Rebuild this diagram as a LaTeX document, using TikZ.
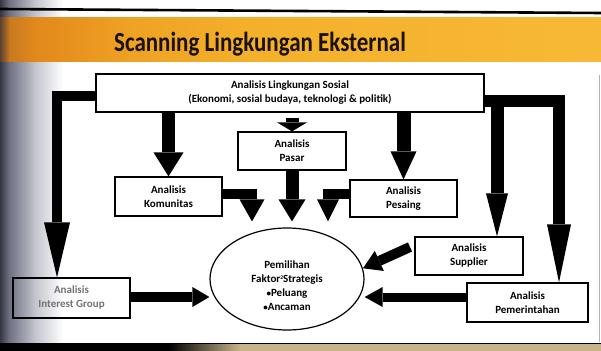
\documentclass[tikz,border=0pt]{standalone}
\usepackage{fontspec}
\setmainfont{Carlito}
\usepackage{graphicx}
\usetikzlibrary{arrows.meta,shapes.geometric}

\definecolor{bandA}{HTML}{5A4030}
\definecolor{bandB}{HTML}{C87A20}
\definecolor{bandC}{HTML}{E2891C}
\definecolor{bandD}{HTML}{EFA224}
\definecolor{bandE}{HTML}{F4B02B}
\definecolor{bandF}{HTML}{F7B935}
\definecolor{fadeA}{HTML}{353842}
\definecolor{fadeB}{HTML}{6D7080}
\definecolor{fadeC}{HTML}{C5C7D0}
\definecolor{botB}{HTML}{C8B48A}
\definecolor{titlecol}{HTML}{1A1208}

% title band: dark at the left edge, orange to yellow-orange to the right
\pgfdeclarehorizontalshading{bandshade}{100bp}{color(0bp)=(bandA); color(25bp)=(bandA);
  color(25.8bp)=(bandB); color(28bp)=(bandC); color(36bp)=(bandD); color(46bp)=(bandE);
  color(75bp)=(bandF); color(100bp)=(bandF)}
% dark edge on the left side of the slide
\pgfdeclarehorizontalshading{leftfade}{100bp}{color(0bp)=(fadeA); color(25bp)=(fadeA);
  color(30bp)=(fadeB); color(45bp)=(fadeC); color(60bp)=(white); color(75bp)=(white);
  color(100bp)=(white)}
% bottom edge strip
\pgfdeclarehorizontalshading{bottomshade}{100bp}{color(0bp)=(black); color(25bp)=(black);
  color(39bp)=(black); color(45bp)=(botB); color(75bp)=(botB); color(100bp)=(botB)}

\newcommand\bxfont{\fontsize{11}{14}\selectfont\bfseries}
\newcommand\smallsup[1]{\raisebox{3.2pt}{\fontsize{5.5}{6}\selectfont #1}}
\newcommand\smallbul{{\fontsize{9}{9}\selectfont\textbullet}}

\tikzset{
  box/.style={draw, line width=1.2pt, fill=white, inner sep=0pt, align=center,
    font=\bxfont},
  fat/.style n args={3}{draw=black, line join=miter, line width=#1,
    -{Triangle[width=#2,length=#3,line width=0pt]}},
}

\begin{document}
\begin{tikzpicture}[x=1pt,y=-1pt]
  \useasboundingbox (0,0) rectangle (601,350);
  \fill[white] (0,0) rectangle (601,350);
  \shade[shading=leftfade] (0,0) rectangle (90,350);

  % slide header
  \draw[black, line width=2.6pt] (0,9) -- (601,13);
  \shade[shading=bandshade] (0,18) rectangle (601,62);
  \node[font=\fontsize{23}{26}\selectfont\bfseries, text=titlecol, anchor=base,
    inner sep=0pt] (title) at (260,52) {\scalebox{1}[1.2]{Scanning Lingkungan Eksternal}};

  % bottom edge and right edge
  \shade[shading=bottomshade] (0,343) rectangle (601,350);
  \draw[black, line width=1.5pt] (0,343.5) -- (601,343.5);
  \draw[black!30, line width=0.8pt] (599.5,75) -- (599.5,342);

  % boxes
  \node[box, minimum width=388pt, minimum height=38pt] (sosial) at (290,93)
    {Analisis Lingkungan Sosial\\(Ekonomi, sosial budaya, teknologi \& politik)};
  \node[box, minimum width=108pt, minimum height=38pt] (pasar) at (292,151)
    {Analisis\\Pasar};
  \node[box, minimum width=107pt, minimum height=39pt] (kom) at (168.5,196.5)
    {Analisis\\Komunitas};
  \node[box, minimum width=107pt, minimum height=37pt] (pes) at (403.5,198.5)
    {Analisis\\Pesaing};
  \node[box, minimum width=108pt, minimum height=38pt] (sup) at (469,256)
    {Analisis\\Supplier};
  \node[box, minimum width=121pt, minimum height=39pt] (pem) at (527.5,302.5)
    {Analisis\\Pemerintahan};
  \node[box, fill=none, text=black!55, minimum width=117pt, minimum height=40pt] (ig)
    at (71.5,298) {Analisis\\Interest Group};
  \node[ellipse, draw, line width=1.2pt, fill=white, minimum width=154pt,
    minimum height=102pt, inner sep=0pt, align=center, font=\bxfont] (ell) at (287,279)
    {\rule{0pt}{21pt}Pemilihan\\Faktor\smallsup{2}Strategis\\\smallbul Peluang\\\smallbul Ancaman};

  % free ends of connectors
  \coordinate (split) at (497,95);
  \coordinate (suptail) at (410,247);

  % connectors
  \draw[fat={10pt}{26pt}{55pt}] (sosial.west |- 0,96) -| (ig.north -| 57,0);
  \draw[fat={13pt}{30pt}{24pt}] (sosial.south -| kom.north) -- (kom.north);
  \draw[fat={13pt}{30pt}{9pt}, shorten <=5pt] (sosial.south -| pasar.north) -- (pasar.north);
  \draw[fat={13pt}{27pt}{22pt}, shorten >=6pt] (pasar.south) -- (ell.north -| pasar.south);
  \draw[fat={10pt}{25pt}{22pt}, shorten >=6pt] (kom.east |- 0,194) -| (ell.north -| 252,0);
  \draw[fat={10pt}{22pt}{22pt}, shorten >=6pt] (pes.west |- 0,194) -| (ell.north -| 328,0);
  \draw[fat={14pt}{26pt}{28pt}] (sosial.south -| pes.north) -- (pes.north);
  \draw[fat={12pt}{24pt}{58pt}] (sosial.east |- 0,101) -| (pem.north -| 559,0);
  \draw[fat={13pt}{22pt}{43pt}] (split) -- (sup.north -| split);
  \draw[fat={10pt}{22pt}{18pt}] (suptail) -- (ell.8);
  \draw[fat={9pt}{20pt}{18pt}] (pem.west |- 0,297) -- (ell.east |- 0,297);
  \draw[fat={10pt}{20pt}{17pt}] (ig.east |- 0,297) -- (ell.west |- 0,297);
\end{tikzpicture}
\end{document}
